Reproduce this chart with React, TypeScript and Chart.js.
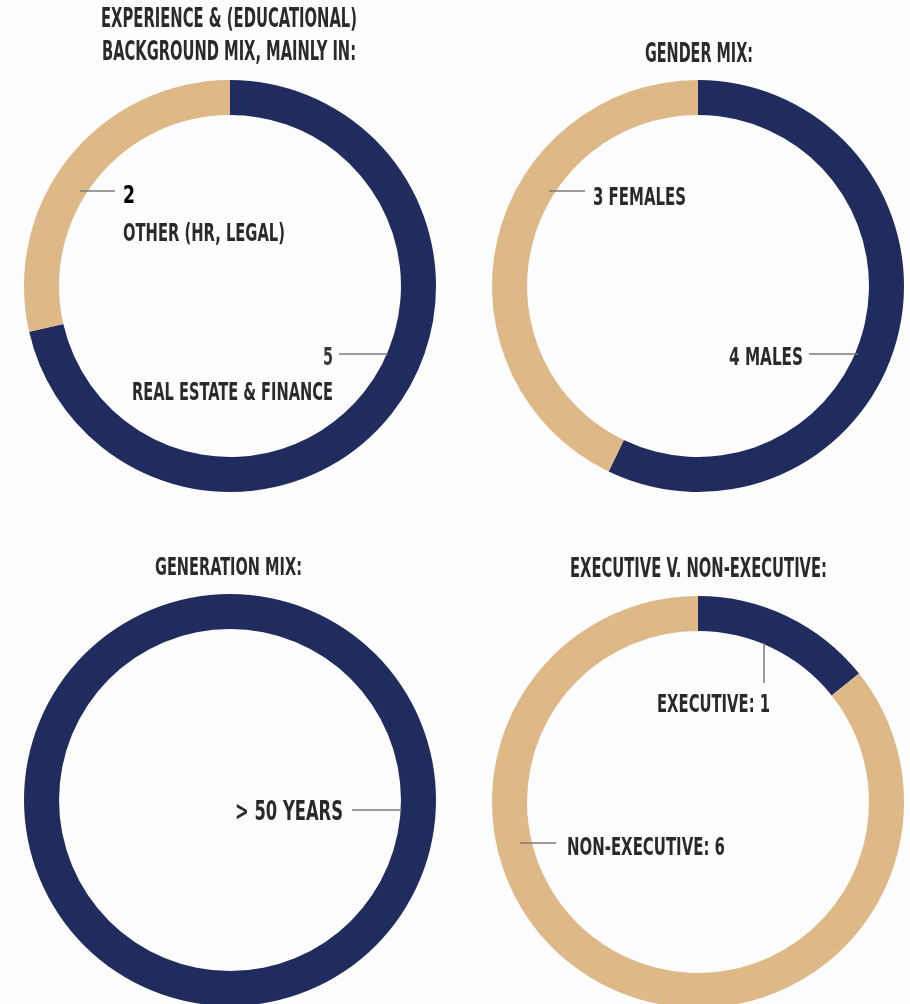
import React, { useEffect, useRef } from "react";
import { Chart, registerables } from "chart.js";

Chart.register(...registerables);

// ---------- DATA ----------
const experienceLabels = ["REAL ESTATE & FINANCE", "OTHER (HR, LEGAL)"];
const experienceValues = [5, 2];

const genderLabels = ["4 MALES", "3 FEMALES"];
const genderValues = [4, 3];

const generationLabels = ["> 50 YEARS"];
const generationValues = [7];

const executiveLabels = ["EXECUTIVE: 1", "NON-EXECUTIVE: 6"];
const executiveValues = [1, 6];

const titles = [
  ["EXPERIENCE & (EDUCATIONAL)", "BACKGROUND MIX, MAINLY IN:"],
  ["GENDER MIX:"],
  ["GENERATION MIX:"],
  ["EXECUTIVE V. NON-EXECUTIVE:"],
];

// ---------- STYLE ----------
const NAVY = "#212c5e";
const TAN = "#dfb887";
const TEXT = "#2a2a2a";
const LINE = "#7a7a7a";
const BG = "#fdfdfd";
const FONT = "'Liberation Sans Narrow', 'DejaVu Sans Condensed', 'Roboto', 'Liberation Sans', sans-serif";
const RADIUS = 206;
const CUTOUT = "83%";

type TextItem = { text: string; x0: number; x1: number; base: number; cap: number; color?: string };
type LineItem = { x1: number; y1: number; x2: number; y2: number };

type Panel = {
  left: number; top: number; width: number; height: number;
  cx: number; cy: number;
  labels: string[]; values: number[]; colors: string[];
  texts: TextItem[]; lines: LineItem[];
};

const panels: Panel[] = [
  {
    left: 0, top: 0, width: 455, height: 502, cx: 230, cy: 286,
    labels: experienceLabels, values: experienceValues, colors: [NAVY, TAN],
    texts: [
      { text: titles[0][0], x0: 101, x1: 357, base: 27, cap: 19 },
      { text: titles[0][1], x0: 102, x1: 356, base: 60, cap: 19 },
      { text: String(experienceValues[1]), x0: 123, x1: 135, base: 203, cap: 18, color: "#000" },
      { text: experienceLabels[1], x0: 123, x1: 285, base: 241, cap: 18 },
      { text: String(experienceValues[0]), x0: 323, x1: 333, base: 365, cap: 18, color: "#3a3a3a" },
      { text: experienceLabels[0], x0: 132, x1: 333, base: 400, cap: 18 },
    ],
    lines: [
      { x1: 80, y1: 191, x2: 115, y2: 191 },
      { x1: 339, y1: 354, x2: 388, y2: 354 },
    ],
  },
  {
    left: 455, top: 0, width: 455, height: 502, cx: 698, cy: 286,
    labels: genderLabels, values: genderValues, colors: [NAVY, TAN],
    texts: [
      { text: titles[1][0], x0: 645, x1: 753, base: 62, cap: 19 },
      { text: genderLabels[1], x0: 593, x1: 686, base: 205, cap: 18 },
      { text: genderLabels[0], x0: 729, x1: 803, base: 365, cap: 18 },
    ],
    lines: [
      { x1: 549, y1: 191, x2: 585, y2: 191 },
      { x1: 809, y1: 354, x2: 858, y2: 354 },
    ],
  },
  {
    left: 0, top: 502, width: 455, height: 520, cx: 230, cy: 800,
    labels: generationLabels, values: generationValues, colors: [NAVY],
    texts: [
      { text: titles[2][0], x0: 155, x1: 302, base: 575, cap: 18 },
      { text: generationLabels[0], x0: 235, x1: 343, base: 820, cap: 19 },
    ],
    lines: [{ x1: 352, y1: 810, x2: 402, y2: 810 }],
  },
  {
    left: 455, top: 502, width: 455, height: 520, cx: 698, cy: 802,
    labels: executiveLabels, values: executiveValues, colors: [NAVY, TAN],
    texts: [
      { text: titles[3][0], x0: 570, x1: 827, base: 577, cap: 19 },
      { text: executiveLabels[0], x0: 657, x1: 770, base: 712, cap: 18 },
      { text: executiveLabels[1], x0: 567, x1: 725, base: 855, cap: 18 },
    ],
    lines: [
      { x1: 764, y1: 643, x2: 764, y2: 683 },
      { x1: 520, y1: 843, x2: 556, y2: 843 },
    ],
  },
];

function makeAnnotationPlugin(p: Panel) {
  return {
    id: "annotations",
    afterDraw(chart: any) {
      const ctx = chart.ctx as CanvasRenderingContext2D;
      ctx.save();
      ctx.strokeStyle = LINE;
      ctx.lineWidth = 1.5;
      for (const l of p.lines) {
        ctx.beginPath();
        ctx.moveTo(l.x1 - p.left, l.y1 - p.top);
        ctx.lineTo(l.x2 - p.left, l.y2 - p.top);
        ctx.stroke();
      }
      for (const t of p.texts) {
        const size = t.cap / 0.72;
        ctx.font = `bold ${size}px ${FONT}`;
        ctx.fillStyle = t.color || TEXT;
        ctx.textAlign = "left";
        ctx.textBaseline = "alphabetic";
        const w = ctx.measureText(t.text).width;
        const s = (t.x1 - t.x0) / w;
        ctx.save();
        ctx.translate(t.x0 - p.left, t.base - p.top);
        ctx.scale(s, 1);
        ctx.fillText(t.text, 0, 0);
        ctx.restore();
      }
      ctx.restore();
    },
  };
}

function DonutPanel({ p }: { p: Panel }) {
  const ref = useRef<HTMLCanvasElement | null>(null);
  useEffect(() => {
    if (!ref.current) return;
    const lx = p.cx - p.left;
    const ly = p.cy - p.top;
    const chart = new Chart(ref.current, {
      type: "doughnut",
      data: {
        labels: p.labels,
        datasets: [
          {
            data: p.values,
            backgroundColor: p.colors,
            borderWidth: 0,
            hoverOffset: 0,
          },
        ],
      },
      options: {
        responsive: false,
        maintainAspectRatio: false,
        animation: false,
        devicePixelRatio: 1,
        events: [],
        cutout: CUTOUT,
        rotation: 0,
        layout: {
          padding: {
            left: lx - RADIUS,
            right: p.width - (lx + RADIUS),
            top: ly - RADIUS,
            bottom: p.height - (ly + RADIUS),
          },
        },
        plugins: {
          legend: { display: false },
          title: { display: false },
          tooltip: { enabled: false },
        },
      },
      plugins: [makeAnnotationPlugin(p)],
    });
    return () => chart.destroy();
  }, [p]);
  return (
    <canvas
      ref={ref}
      width={p.width}
      height={p.height}
      style={{ position: "absolute", left: p.left, top: p.top, width: p.width, height: p.height }}
    />
  );
}

export default function App() {
  return (
    <div
      style={{
        position: "absolute",
        left: 0,
        top: 0,
        width: 910,
        height: 1004,
        overflow: "hidden",
        background: BG,
      }}
    >
      {panels.map((p, i) => (
        <DonutPanel key={i} p={p} />
      ))}
    </div>
  );
}
